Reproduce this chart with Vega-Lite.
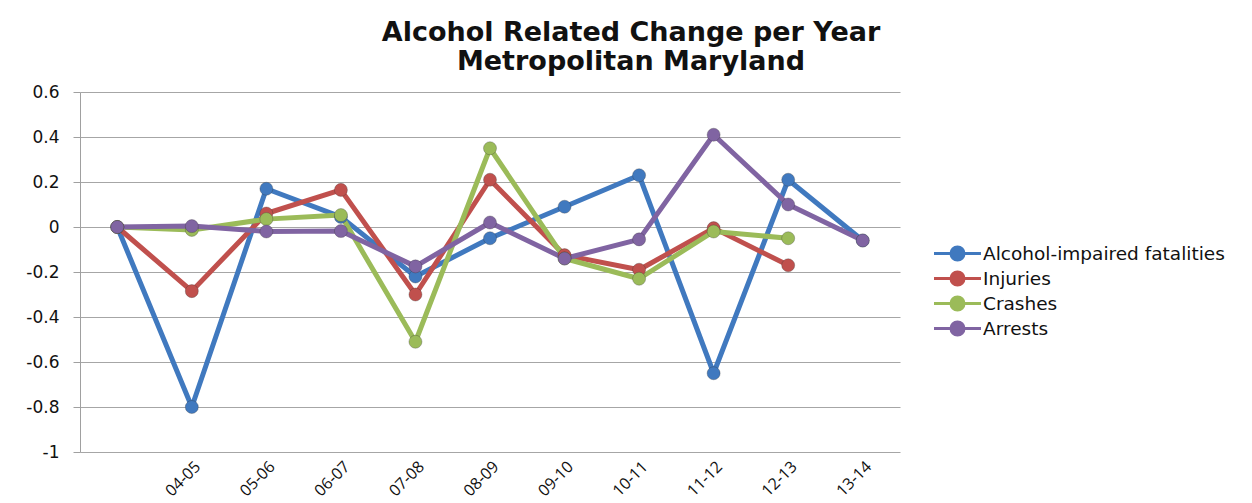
{
  "$schema": "https://vega.github.io/schema/vega-lite/v6.json",
  "autosize": {"type": "none"},
  "width": 820,
  "height": 360,
  "padding": {"left": 80, "top": 92, "right": 352, "bottom": 51},
  "background": "white",
  "title": {
    "text": "Alcohol Related Change per Year",
    "subtitle": "Metropolitan Maryland",
    "font": "DejaVu Sans",
    "fontSize": 27,
    "fontWeight": "bold",
    "color": "#111111",
    "subtitleFont": "DejaVu Sans",
    "subtitleFontSize": 27,
    "subtitleFontWeight": "bold",
    "subtitleColor": "#111111",
    "subtitlePadding": 2,
    "anchor": "middle",
    "dx": 141,
    "offset": 7
  },
  "data": {
    "values": [
      {"period": "03-04", "series": "Alcohol-impaired fatalities", "value": 0},
      {"period": "04-05", "series": "Alcohol-impaired fatalities", "value": -0.8},
      {"period": "05-06", "series": "Alcohol-impaired fatalities", "value": 0.17},
      {"period": "06-07", "series": "Alcohol-impaired fatalities", "value": 0.045},
      {"period": "07-08", "series": "Alcohol-impaired fatalities", "value": -0.22},
      {"period": "08-09", "series": "Alcohol-impaired fatalities", "value": -0.05},
      {"period": "09-10", "series": "Alcohol-impaired fatalities", "value": 0.09},
      {"period": "10-11", "series": "Alcohol-impaired fatalities", "value": 0.23},
      {"period": "11-12", "series": "Alcohol-impaired fatalities", "value": -0.65},
      {"period": "12-13", "series": "Alcohol-impaired fatalities", "value": 0.21},
      {"period": "13-14", "series": "Alcohol-impaired fatalities", "value": -0.06},
      {"period": "03-04", "series": "Injuries", "value": 0},
      {"period": "04-05", "series": "Injuries", "value": -0.285},
      {"period": "05-06", "series": "Injuries", "value": 0.06},
      {"period": "06-07", "series": "Injuries", "value": 0.165},
      {"period": "07-08", "series": "Injuries", "value": -0.3},
      {"period": "08-09", "series": "Injuries", "value": 0.21},
      {"period": "09-10", "series": "Injuries", "value": -0.125},
      {"period": "10-11", "series": "Injuries", "value": -0.19},
      {"period": "11-12", "series": "Injuries", "value": -0.005},
      {"period": "12-13", "series": "Injuries", "value": -0.17},
      {"period": "03-04", "series": "Crashes", "value": 0},
      {"period": "04-05", "series": "Crashes", "value": -0.013},
      {"period": "05-06", "series": "Crashes", "value": 0.035},
      {"period": "06-07", "series": "Crashes", "value": 0.053},
      {"period": "07-08", "series": "Crashes", "value": -0.51},
      {"period": "08-09", "series": "Crashes", "value": 0.35},
      {"period": "09-10", "series": "Crashes", "value": -0.14},
      {"period": "10-11", "series": "Crashes", "value": -0.23},
      {"period": "11-12", "series": "Crashes", "value": -0.02},
      {"period": "12-13", "series": "Crashes", "value": -0.05},
      {"period": "03-04", "series": "Arrests", "value": 0},
      {"period": "04-05", "series": "Arrests", "value": 0.004},
      {"period": "05-06", "series": "Arrests", "value": -0.02},
      {"period": "06-07", "series": "Arrests", "value": -0.018},
      {"period": "07-08", "series": "Arrests", "value": -0.175},
      {"period": "08-09", "series": "Arrests", "value": 0.02},
      {"period": "09-10", "series": "Arrests", "value": -0.14},
      {"period": "10-11", "series": "Arrests", "value": -0.055},
      {"period": "11-12", "series": "Arrests", "value": 0.41},
      {"period": "12-13", "series": "Arrests", "value": 0.1},
      {"period": "13-14", "series": "Arrests", "value": -0.06}
    ]
  },
  "encoding": {
    "x": {
      "field": "period",
      "type": "ordinal",
      "sort": ["03-04", "04-05", "05-06", "06-07", "07-08", "08-09", "09-10", "10-11", "11-12", "12-13", "13-14"],
      "scale": {"type": "point", "padding": 0.5},
      "axis": {
        "title": null,
        "labelExpr": "datum.value == '03-04' ? '' : datum.label",
        "labelAngle": -45,
        "labelAlign": "right",
        "labelBaseline": "top",
        "labelFont": "Open Sans",
        "labelFontSize": 16,
        "labelColor": "#111111",
        "labelPadding": 6,
        "ticks": false,
        "domain": false,
        "grid": false
      }
    },
    "y": {
      "field": "value",
      "type": "quantitative",
      "scale": {"domain": [-1, 0.6], "nice": false, "zero": false},
      "axis": {
        "title": null,
        "values": [-1, -0.8, -0.6, -0.4, -0.2, 0, 0.2, 0.4, 0.6],
        "labelExpr": "replace(datum.value == 0 ? '0' : format(datum.value, '.1~f'), '\u2212', '-')",
        "labelFont": "DejaVu Sans",
        "labelFontSize": 17,
        "labelColor": "#111111",
        "labelPadding": 14,
        "tickSize": 7,
        "tickColor": "#a0a0a0",
        "domainColor": "#a0a0a0",
        "gridColor": "#a6a6a6",
        "gridWidth": 1.2,
        "grid": true
      }
    },
    "color": {
      "field": "series",
      "type": "nominal",
      "sort": ["Alcohol-impaired fatalities", "Injuries", "Crashes", "Arrests"],
      "scale": {
        "domain": ["Alcohol-impaired fatalities", "Injuries", "Crashes", "Arrests"],
        "range": ["#4079bf", "#c0504d", "#9bbb59", "#8064a2"]
      },
      "legend": {
        "title": null,
        "orient": "none",
        "legendX": 866,
        "legendY": 150,
        "symbolType": "M-2.35,0H-0.65A0.65,0.65,0,1,1,0.65,0A0.65,0.65,0,1,1,-0.65,0ZM0.65,0H2.35",
        "symbolSize": 400,
        "symbolStrokeWidth": 3,
        "labelOffset": 14,
        "labelLimit": 400,
        "labelFont": "DejaVu Sans",
        "labelFontSize": 18.5,
        "labelColor": "#111111",
        "rowPadding": 0,
        "padding": 0
      }
    }
  },
  "layer": [
    {
      "mark": {"type": "line", "strokeWidth": 5, "strokeJoin": "round"},
      "encoding": {"order": {"field": "period"}}
    },
    {
      "mark": {"type": "point", "filled": true, "size": 170, "opacity": 1, "stroke": "#333333", "strokeWidth": 0.6, "strokeOpacity": 0.5}
    }
  ],
  "config": {
    "view": {"stroke": null}
  }
}
